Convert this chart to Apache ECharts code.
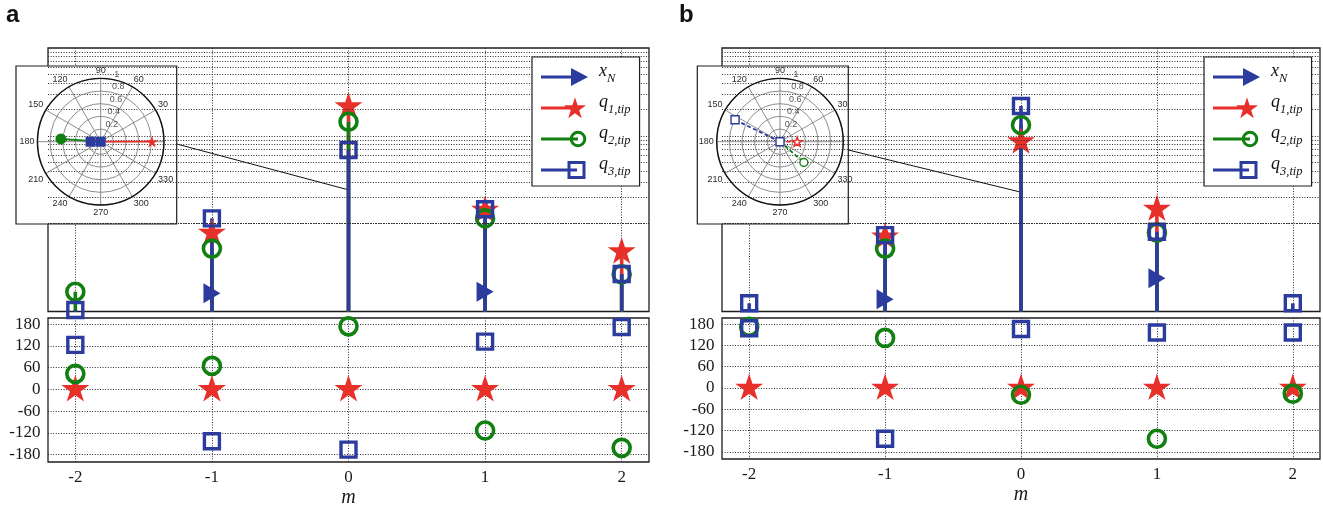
<!DOCTYPE html>
<html>
<head>
<meta charset="utf-8">
<script src="https://cdn.jsdelivr.net/npm/echarts@6/dist/echarts.min.js"></script>
<style>
  html, body { margin: 0; padding: 0; background: #fff; }
  #chart { width: 1323px; height: 508px; }
</style>
</head>
<body>
<div id="chart"></div>
<script>
// harmonic index m and axis ticks
var mValues = [-2, -1, 0, 1, 2];
var phaseTicks = [-180, -120, -60, 0, 60, 120, 180];
var radiusTicks = [0.2, 0.4, 0.6, 0.8, 1];

// panel a: amplitudes (upper, log scale); null = below the axis
var aXN = [null, 0.00161, null, 0.00168, null];
var aQ1 = [null, 0.0078, 0.215, 0.0143, 0.0048];
var aQ2 = [0.00168, 0.0052, 0.145, 0.0115, 0.00265];
var aQ3 = [0.00104, 0.0115, 0.069, 0.0146, 0.00267];
// panel a: phases in degrees (lower)
var aQ1Ph = [0, 0, 0, 0, 0];
var aQ2Ph = [43, 65, 174, -113, -161];
var aQ3Ph = [123, -143, -166, 132, 172];
// panel a: polar inset, [radius, angle]
var aPolQ1 = [[0, 0], [0.81, 0]];
var aPolQ2 = [[0, 0], [0.63, 176]];
var aPolQ3 = [[0, 180], [0.16, 180]];
var aNoteY = 0.0246;

// panel b
var bXN = [null, 0.00138, null, 0.00239, null];
var bQ1 = [null, 0.0071, 0.0858, 0.0147, null];
var bQ2 = [null, 0.0052, 0.133, 0.0079, null];
var bQ3 = [0.00124, 0.0074, 0.219, 0.0081, 0.00124];
var bQ1Ph = [0, 0, 0, 0, 0];
var bQ2Ph = [172, 141, -19, -143, -16];
var bQ3Ph = [168, -143, 166, 156, 156];
var bPolQ1 = [[0, 0], [0.27, 0]];
var bPolQ2 = [[0, 0], [0.5, 319]];
var bPolQ3 = [[0, 0], [0.79, 154]];
var bNoteY = 0.0231;

var BLUE = '#2b3b9e', RED = '#e8302a', GREEN = '#118011';
var Y_MIN = 0.001, Y_MAX = 1;
var SERIF = 'Liberation Serif', SANS = 'Liberation Sans';
var DOT = { color: '#2a2a2a', width: 1, type: [1, 1.6] };

function starPath(cx, cy, R) {
    var pts = [];
    for (var i = 0; i < 10; i++) {
        var a = (-90 + i * 36) * Math.PI / 180;
        var rr = i % 2 === 0 ? R : R * 0.382;
        pts.push((cx + rr * Math.cos(a)).toFixed(2) + ' ' + (cy + rr * Math.sin(a)).toFixed(2));
    }
    return 'M' + pts.join(' L') + ' Z';
}
var STAR = 'path://' + starPath(0, 0, 10);

// legend icons: stem line + marker, bbox pinned to 53x22
var PIN = ' M0 0 L0.01 0 Z M53 22 L52.99 22 Z';
var ICONS = {
    xN: 'path://M0 9.5 L34 9.5 L34 12.5 L0 12.5 Z M30 2 L47 11 L30 20 Z' + PIN,
    q1: 'path://M0 9.5 L30 9.5 L30 12.5 L0 12.5 Z ' + starPath(34, 11.9, 11.6) + PIN,
    q2: 'path://M0 9.5 L37 9.5 L37 12.5 L0 12.5 Z M28.7 11 A8.3 8.3 0 0 1 45.3 11 A8.3 8.3 0 0 1 28.7 11 Z M31.7 11 A5.3 5.3 0 0 0 42.3 11 A5.3 5.3 0 0 0 31.7 11 Z' + PIN,
    q3: 'path://M0 9.5 L36 9.5 L36 12.5 L0 12.5 Z M26.5 2 L44.5 2 L44.5 20 L26.5 20 Z M29.5 5 L29.5 17 L41.5 17 L41.5 5 Z' + PIN
};
var LEGEND_TEXT = { xN: '{v|x}{s|N}', q1: '{v|q}{s|1,tip}', q2: '{v|q}{s|2,tip}', q3: '{v|q}{s|3,tip}' };
var COLORS = { xN: BLUE, q1: RED, q2: GREEN, q3: BLUE };

var MARKERS = {
    xN: { symbol: 'triangle', symbolSize: [20, 17], symbolRotate: -90, itemStyle: { color: BLUE, opacity: 1 } },
    q1: { symbol: STAR, symbolSize: [28, 26.6], symbolOffset: [0, -1.2], itemStyle: { color: RED, opacity: 1 } },
    q2: { symbol: 'circle', symbolSize: 17, itemStyle: { color: 'rgba(0,0,0,0)', borderColor: GREEN, borderWidth: 3.6, opacity: 1 } },
    q3: { symbol: 'rect', symbolSize: 15, itemStyle: { color: 'rgba(0,0,0,0)', borderColor: BLUE, borderWidth: 3.4, opacity: 1 } }
};

var panels = [
    {
        amp: { xN: aXN, q1: aQ1, q2: aQ2, q3: aQ3 },
        phase: { q1: aQ1Ph, q2: aQ2Ph, q3: aQ3Ph },
        polar: { q1: aPolQ1, q2: aPolQ2, q3: aPolQ3 },
        polarFilled: true, noteY: aNoteY,
        gUp: { left: 48, top: 48, width: 601, height: 263.5 },
        gLow: { left: 48, top: 318, width: 601, height: 144 },
        inset: { x: 16, y: 66, w: 160.7, h: 158 },
        center: [100.7, 141.7],
        legend: { left: 532, top: 57 },
        title: { text: 'a', left: 6, top: 3 }
    },
    {
        amp: { xN: bXN, q1: bQ1, q2: bQ2, q3: bQ3 },
        phase: { q1: bQ1Ph, q2: bQ2Ph, q3: bQ3Ph },
        polar: { q1: bPolQ1, q2: bPolQ2, q3: bPolQ3 },
        polarFilled: false, noteY: bNoteY,
        gUp: { left: 722, top: 48, width: 598, height: 263.5 },
        gLow: { left: 722, top: 318, width: 598, height: 141 },
        inset: { x: 697.3, y: 66, w: 151, h: 158 },
        center: [780, 141.7],
        legend: { left: 1204, top: 57 },
        title: { text: 'b', left: 679, top: 3 }
    }
];

function pairs(vals) {
    var out = [];
    for (var i = 0; i < mValues.length; i++) {
        if (vals[i] != null) out.push([mValues[i], vals[i]]);
    }
    return out;
}

function stemSeries(key, axis, vals) {
    var color = COLORS[key];
    return {
        type: 'custom', name: key, xAxisIndex: axis, yAxisIndex: axis, z: 2, silent: true,
        data: pairs(vals),
        renderItem: function (params, api) {
            var tip = api.coord([api.value(0), api.value(1)]);
            var base = api.coord([api.value(0), Y_MIN]);
            return {
                type: 'line',
                shape: { x1: tip[0], y1: base[1], x2: tip[0], y2: tip[1] },
                style: { stroke: color, lineWidth: 3.6 }
            };
        }
    };
}

function markerSeries(key, axis, vals) {
    var mk = MARKERS[key];
    return {
        type: 'scatter', name: key, xAxisIndex: axis, yAxisIndex: axis, z: 2, silent: true,
        symbol: mk.symbol, symbolSize: mk.symbolSize, symbolRotate: mk.symbolRotate || 0,
        symbolOffset: mk.symbolOffset || [0, 0], itemStyle: mk.itemStyle,
        data: pairs(vals)
    };
}

function logGridSeries(axis) {
    var lines = [];
    for (var e = -3; e < 0; e++) {
        for (var k = 1; k < 10; k++) lines.push({ yAxis: k * Math.pow(10, e) });
    }
    return {
        type: 'line', xAxisIndex: axis, yAxisIndex: axis, data: [], z: 1, silent: true,
        markLine: {
            silent: true, symbol: ['none', 'none'], label: { show: false }, animation: false,
            lineStyle: DOT, emphasis: { disabled: true }, data: lines
        }
    };
}

var grid = [], xAxis = [], yAxis = [], series = [], legend = [], title = [];
var polar = [], angleAxis = [], radiusAxis = [], graphic = [];

panels.forEach(function (p, pi) {
    var up = pi * 2, low = pi * 2 + 1;
    [p.gUp, p.gLow].forEach(function (g) {
        grid.push({
            left: g.left, top: g.top, width: g.width, height: g.height, show: true,
            backgroundColor: '#fff', borderColor: '#1e1e1e', borderWidth: 1.3, outerBoundsMode: 'none'
        });
    });
    [up, low].forEach(function (gi) {
        var isLow = gi === low;
        xAxis.push({
            gridIndex: gi, type: 'value', min: -2.2, max: 2.2,
            axisLine: { show: false },
            axisTick: { show: false, customValues: mValues },
            axisLabel: {
                show: isLow, customValues: mValues, margin: 7.5,
                fontFamily: SERIF, fontSize: 17, color: '#1a1a1a'
            },
            splitLine: { show: true, lineStyle: DOT },
            name: isLow ? 'm' : '', nameLocation: 'middle', nameGap: 26,
            nameTextStyle: { fontFamily: SERIF, fontStyle: 'italic', fontSize: 20, color: '#1a1a1a' }
        });
    });
    yAxis.push({
        gridIndex: up, type: 'log', logBase: 10, min: Y_MIN, max: Y_MAX,
        axisLine: { show: false }, axisTick: { show: false },
        axisLabel: { show: false }, splitLine: { show: false }
    });
    yAxis.push({
        gridIndex: low, type: 'value', min: -200, max: 197,
        axisLine: { show: false },
        axisTick: { show: false, customValues: phaseTicks },
        axisLabel: {
            customValues: phaseTicks, margin: 7.5,
            fontFamily: SERIF, fontSize: 17, color: '#1a1a1a'
        },
        splitLine: { show: true, lineStyle: DOT }
    });

    series.push(logGridSeries(up));
    ['xN', 'q1', 'q2', 'q3'].forEach(function (key) {
        series.push(stemSeries(key, up, p.amp[key]));
        series.push(markerSeries(key, up, p.amp[key]));
    });
    ['q1', 'q2', 'q3'].forEach(function (key) {
        series.push(markerSeries(key, low, p.phase[key]));
    });

    // polar inset
    graphic.push({
        id: 'inset' + pi, type: 'rect', z: 5, silent: true,
        shape: { x: p.inset.x, y: p.inset.y, width: p.inset.w, height: p.inset.h },
        style: { fill: '#fff', stroke: '#1e1e1e', lineWidth: 1.2 }
    });
    polar.push({ center: p.center, radius: 63.3 });
    angleAxis.push({
        polarIndex: pi, type: 'value', min: 0, max: 360, interval: 30,
        startAngle: 0, clockwise: false, z: 6,
        axisLine: { lineStyle: { color: '#111', width: 1.4 } },
        axisTick: { show: false },
        axisLabel: {
            margin: 3, fontFamily: SANS, fontSize: 9, color: '#2a2a2a',
            formatter: function (v) { return v % 360 === 0 ? '' : String(v); }
        },
        splitLine: { show: true, lineStyle: { color: '#808080', width: 0.9 } }
    });
    radiusAxis.push({
        polarIndex: pi, type: 'value', min: 0, max: 1, interval: 0.2, z: 6,
        axisLine: { show: false }, axisTick: { show: false }, axisLabel: { show: false },
        splitLine: { show: true, lineStyle: { color: '#808080', width: 0.9 } }
    });
    series.push({
        type: 'scatter', coordinateSystem: 'polar', polarIndex: pi, z: 7, silent: true,
        symbolSize: 1, itemStyle: { color: 'rgba(0,0,0,0)' },
        data: radiusTicks.map(function (r) { return [r, 80]; }),
        label: {
            show: true, position: 'right', distance: 2, offset: [0, -5],
            fontFamily: SANS, fontSize: 9, color: '#2a2a2a',
            formatter: function (prm) { return String(prm.value[0]); }
        }
    });
    var polarStyle = {
        q1: { symbol: STAR, size: p.polarFilled ? [12, 11.4] : [10, 9.5] },
        q2: { symbol: 'circle', size: p.polarFilled ? 11 : 8 },
        q3: { symbol: 'rect', size: p.polarFilled ? 10 : 8 }
    };
    ['q1', 'q2', 'q3'].forEach(function (key) {
        var pts = p.polar[key];
        var st = polarStyle[key];
        var showStart = key === 'q3';
        series.push({
            type: 'line', coordinateSystem: 'polar', polarIndex: pi, z: 7, silent: true,
            symbol: st.symbol, symbolSize: st.size, showSymbol: true,
            lineStyle: { color: COLORS[key], width: 1.8, type: p.polarFilled ? 'solid' : [4, 2.5] },
            itemStyle: p.polarFilled
                ? { color: COLORS[key], opacity: 1 }
                : { color: '#fff', borderColor: COLORS[key], borderWidth: 1.4, opacity: 1 },
            data: [
                { value: pts[0], symbol: showStart ? st.symbol : 'none' },
                { value: pts[1] }
            ]
        });
    });

    legend.push({
        left: p.legend.left, top: p.legend.top, orient: 'vertical',
        padding: [5, 9, 5, 9], itemGap: 5, itemWidth: 53, itemHeight: 22,
        backgroundColor: '#fff', borderColor: '#1e1e1e', borderWidth: 1.2, borderRadius: 0,
        z: 10, selectedMode: false,
        data: ['xN', 'q1', 'q2', 'q3'].map(function (key) {
            return { name: key, icon: ICONS[key], itemStyle: { color: COLORS[key], borderWidth: 0 } };
        }),
        formatter: function (name) { return LEGEND_TEXT[name]; },
        textStyle: {
            color: '#111',
            rich: {
                v: { fontFamily: SERIF, fontStyle: 'italic', fontSize: 18, lineHeight: 16, padding: [0, 0, 5, 0], verticalAlign: 'bottom', color: '#111' },
                s: { fontFamily: SERIF, fontStyle: 'italic', fontSize: 12.5, lineHeight: 12.5, verticalAlign: 'bottom', color: '#111' }
            }
        }
    });

    title.push({
        text: p.title.text, left: p.title.left, top: p.title.top, padding: 0,
        textStyle: { fontFamily: SANS, fontSize: 24, fontWeight: 'bold', color: '#111' }
    });
});

var myChart = echarts.init(document.getElementById('chart'));
myChart.setOption({
    animation: false,
    backgroundColor: '#fff',
    title: title,
    grid: grid,
    xAxis: xAxis,
    yAxis: yAxis,
    polar: polar,
    angleAxis: angleAxis,
    radiusAxis: radiusAxis,
    legend: legend,
    graphic: graphic,
    series: series
});

// pointer line from each inset to the m = 0 stem
var notes = [];
panels.forEach(function (p, pi) {
    var end = myChart.convertToPixel({ xAxisIndex: pi * 2, yAxisIndex: pi * 2 }, [0, p.noteY]);
    notes.push({
        id: 'note' + pi, type: 'line', z: 5, silent: true,
        shape: { x1: p.inset.x + p.inset.w, y1: p.inset.y + 78 + pi * 6, x2: end[0] - 2, y2: end[1] },
        style: { stroke: '#111', lineWidth: 1 }
    });
});
myChart.setOption({ graphic: notes });
</script>
</body>
</html>
